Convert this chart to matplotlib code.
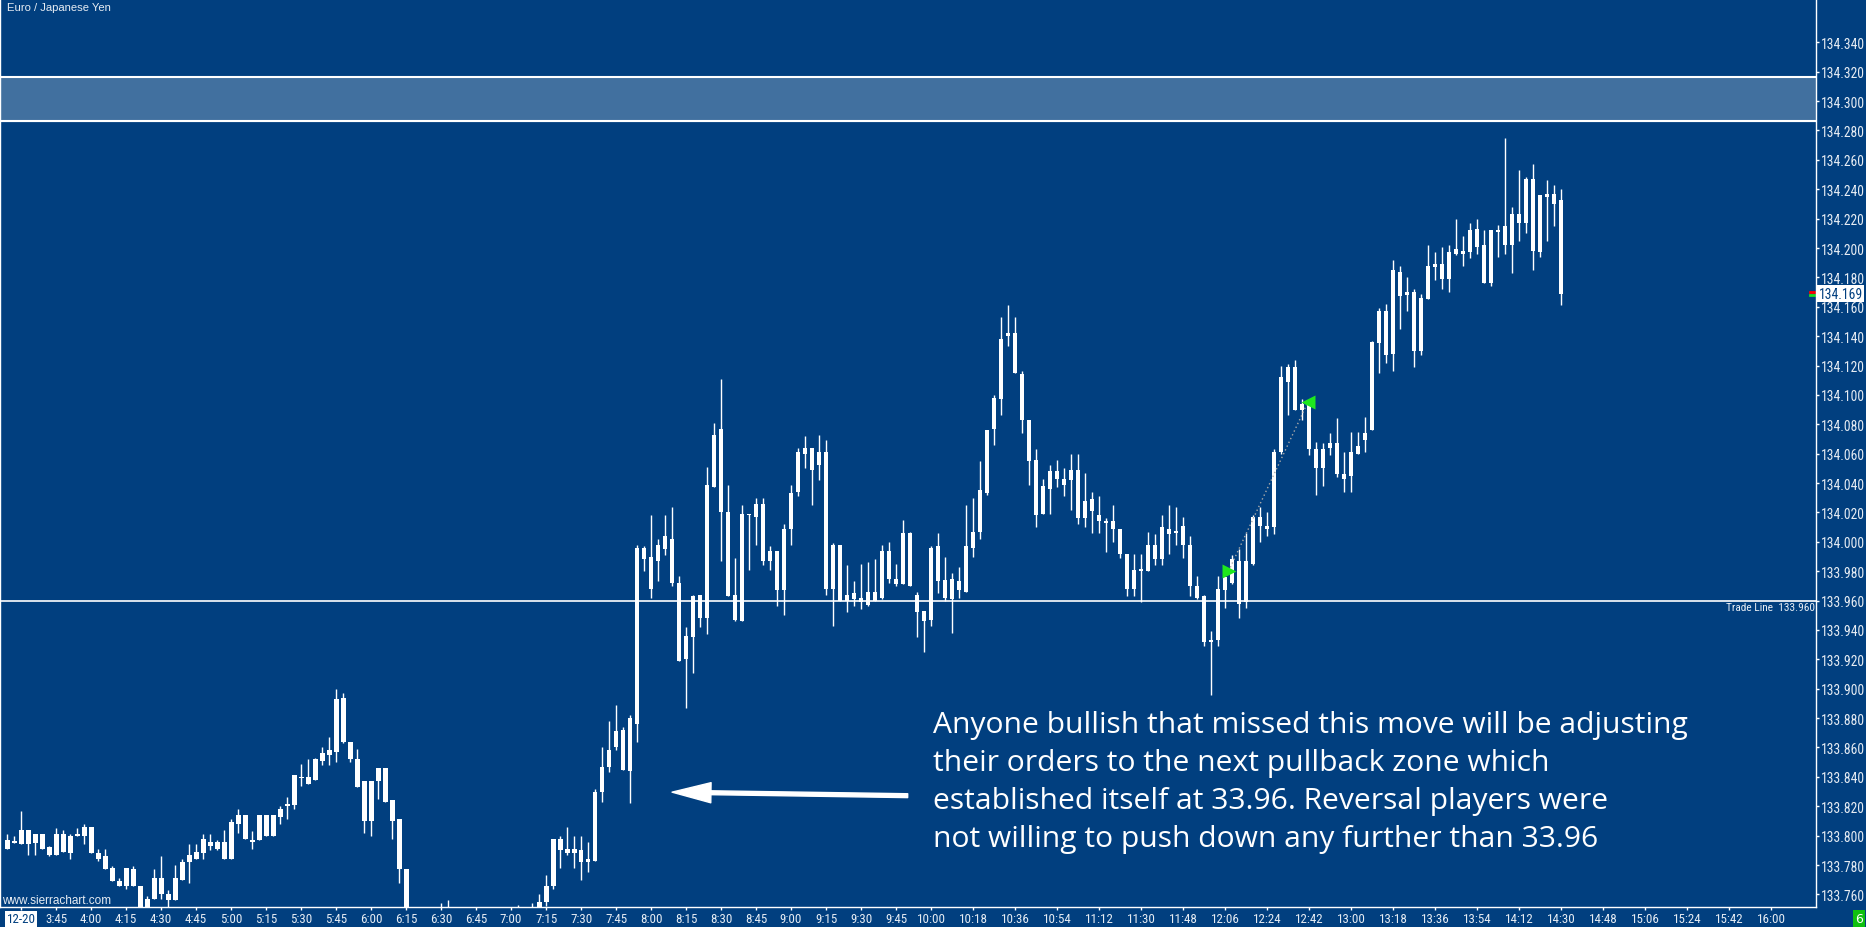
import numpy as np
import matplotlib
matplotlib.use("Agg")
import matplotlib.pyplot as plt
from matplotlib import font_manager
from matplotlib.font_manager import FontProperties
from matplotlib.textpath import TextPath

# ---- data: 3-minute EUR/JPY bars, first bar 03:24 ----
first_bar = "3:24"
bar_minutes = 3

opens = [133.791, 133.796, 133.794, 133.804, 133.795, 133.801, 133.792, 133.787, 133.801, 133.788,
         133.800, 133.800, 133.806, 133.788, 133.786, 133.778, 133.769, 133.766, 133.777, 133.766,
         133.748, 133.757, 133.771, 133.760, 133.756, 133.770, 133.782, 133.784, 133.788, 133.796,
         133.796, 133.796, 133.784, 133.808, 133.814, 133.797, 133.797, 133.814, 133.800, 133.813,
         133.820, 133.821, 133.840, 133.840, 133.838, 133.851, 133.855, 133.857, 133.894, 133.864,
         133.852, 133.837, 133.810, 133.837, 133.846, 133.824, 133.811, 133.777, 133.740, 133.730,
         133.735, 133.738, 133.745, 133.742, 133.740, 133.732, 133.726, 133.730, 133.734, 133.736,
         133.740, 133.735, 133.741, 133.744, 133.742, 133.745, 133.741, 133.755, 133.766, 133.798,
         133.791, 133.788, 133.790, 133.782, 133.783, 133.830, 133.847, 133.860, 133.872, 133.844,
         133.876, 133.996, 133.990, 133.987, 133.995, 134.002, 133.972, 133.920, 133.935, 133.964,
         133.948, 134.037, 134.077, 134.020, 133.964, 133.946, 134.019, 134.017, 134.026, 133.987,
         133.994, 133.967, 134.009, 134.034, 134.060, 134.064, 134.052, 134.061, 133.968, 133.998,
         133.960, 133.961, 133.962, 133.957, 133.966, 133.962, 133.994, 133.975, 133.971, 134.006,
         133.964, 133.953, 133.947, 133.997, 133.974, 133.961, 133.973, 133.966, 133.996, 134.007,
         134.033, 134.077, 134.097, 134.140, 134.142, 134.114, 134.083, 134.056, 134.019, 134.036,
         134.048, 134.043, 134.042, 134.049, 134.016, 134.029, 134.018, 134.014, 134.014, 134.009,
         133.992, 133.968, 133.981, 133.980, 133.998, 133.988, 134.009, 134.006, 134.011, 133.998,
         133.970, 133.963, 133.932, 133.933, 133.967, 133.972, 133.987, 133.959, 133.985, 134.017,
         134.011, 134.010, 134.061, 134.109, 134.119, 134.090, 134.094, 134.063, 134.050, 134.064,
         134.067, 134.046, 134.045, 134.060, 134.069, 134.076, 134.135, 134.157, 134.128, 134.184,
         134.168, 134.170, 134.130, 134.165, 134.187, 134.189, 134.179, 134.196, 134.198, 134.197,
         134.213, 134.202, 134.176, 134.211, 134.215, 134.202, 134.223, 134.217, 134.247, 134.197,
         134.235, 134.237, 134.233]
highs = [133.801, 133.800, 133.817, 133.804, 133.801, 133.801, 133.793, 133.805, 133.804, 133.801,
         133.805, 133.808, 133.806, 133.791, 133.791, 133.779, 133.771, 133.778, 133.779, 133.766,
         133.759, 133.777, 133.786, 133.763, 133.780, 133.784, 133.794, 133.794, 133.801, 133.801,
         133.797, 133.804, 133.811, 133.818, 133.814, 133.803, 133.814, 133.814, 133.814, 133.820,
         133.826, 133.841, 133.849, 133.852, 133.853, 133.860, 133.867, 133.900, 133.897, 133.864,
         133.859, 133.837, 133.837, 133.846, 133.846, 133.824, 133.811, 133.777, 133.745, 133.738,
         133.742, 133.748, 133.754, 133.756, 133.746, 133.740, 133.735, 133.738, 133.742, 133.745,
         133.746, 133.744, 133.748, 133.753, 133.749, 133.754, 133.760, 133.773, 133.798, 133.800,
         133.806, 133.800, 133.800, 133.796, 133.832, 133.860, 133.878, 133.889, 133.874, 133.882,
         133.998, 133.997, 134.018, 134.002, 134.018, 134.024, 133.977, 133.942, 133.964, 133.964,
         134.051, 134.081, 134.111, 134.039, 133.989, 134.025, 134.019, 134.030, 134.030, 133.997,
         133.994, 134.012, 134.039, 134.064, 134.072, 134.064, 134.073, 134.069, 133.999, 133.998,
         133.984, 133.973, 133.985, 133.986, 133.988, 133.998, 134.000, 133.985, 134.015, 134.007,
         133.966, 133.953, 133.997, 134.006, 133.990, 133.979, 133.983, 134.025, 134.030, 134.055,
         134.076, 134.100, 134.153, 134.161, 134.153, 134.116, 134.083, 134.063, 134.043, 134.052,
         134.056, 134.050, 134.060, 134.060, 134.047, 134.034, 134.031, 134.016, 134.025, 134.009,
         133.992, 133.992, 133.992, 134.007, 134.005, 134.018, 134.025, 134.024, 134.017, 134.004,
         133.977, 133.964, 133.939, 133.977, 133.976, 133.991, 133.995, 134.006, 134.018, 134.024,
         134.020, 134.063, 134.120, 134.121, 134.124, 134.097, 134.094, 134.068, 134.067, 134.074,
         134.084, 134.061, 134.075, 134.075, 134.085, 134.137, 134.159, 134.162, 134.192, 134.188,
         134.180, 134.172, 134.169, 134.202, 134.197, 134.201, 134.202, 134.220, 134.208, 134.217,
         134.220, 134.212, 134.212, 134.216, 134.275, 134.228, 134.253, 134.248, 134.257, 134.236,
         134.246, 134.243, 134.240]
lows = [133.791, 133.795, 133.794, 133.787, 133.787, 133.791, 133.786, 133.787, 133.789, 133.784,
        133.800, 133.794, 133.788, 133.783, 133.777, 133.769, 133.766, 133.764, 133.766, 133.744,
        133.745, 133.757, 133.757, 133.748, 133.756, 133.770, 133.768, 133.784, 133.784, 133.790,
        133.790, 133.784, 133.784, 133.802, 133.798, 133.791, 133.797, 133.800, 133.800, 133.808,
        133.811, 133.818, 133.834, 133.835, 133.838, 133.848, 133.848, 133.850, 133.863, 133.850,
        133.833, 133.802, 133.800, 133.825, 133.823, 133.798, 133.768, 133.735, 133.725, 133.720,
        133.728, 133.733, 133.738, 133.736, 133.728, 133.722, 133.718, 133.724, 133.728, 133.730,
        133.732, 133.730, 133.734, 133.738, 133.735, 133.739, 133.738, 133.752, 133.764, 133.778,
        133.787, 133.778, 133.770, 133.775, 133.783, 133.823, 133.843, 133.858, 133.845, 133.822,
        133.864, 133.980, 133.962, 133.973, 133.991, 133.970, 133.919, 133.887, 133.911, 133.942,
        133.937, 134.037, 133.987, 133.963, 133.946, 133.946, 133.981, 133.998, 133.984, 133.981,
        133.956, 133.950, 133.998, 134.031, 134.050, 134.025, 134.042, 133.964, 133.943, 133.960,
        133.952, 133.956, 133.954, 133.956, 133.960, 133.961, 133.972, 133.970, 133.971, 133.970,
        133.935, 133.925, 133.943, 133.965, 133.960, 133.938, 133.962, 133.966, 133.990, 134.002,
        134.032, 134.066, 134.086, 134.133, 134.115, 134.074, 134.039, 134.010, 134.019, 134.019,
        134.037, 134.031, 134.022, 134.012, 134.010, 134.006, 134.006, 133.993, 134.000, 133.989,
        133.963, 133.963, 133.959, 133.980, 133.984, 133.984, 133.992, 133.998, 133.989, 133.963,
        133.961, 133.929, 133.896, 133.929, 133.955, 133.971, 133.948, 133.955, 133.984, 134.000,
        134.004, 134.005, 134.060, 134.086, 134.090, 134.083, 134.059, 134.032, 134.038, 134.059,
        134.044, 134.034, 134.034, 134.060, 134.061, 134.076, 134.115, 134.122, 134.116, 134.145,
        134.157, 134.119, 134.127, 134.165, 134.178, 134.172, 134.170, 134.195, 134.188, 134.193,
        134.196, 134.176, 134.174, 134.194, 134.196, 134.183, 134.205, 134.210, 134.185, 134.194,
        134.205, 134.215, 134.161]
closes = [133.797, 133.795, 133.804, 133.794, 133.801, 133.791, 133.787, 133.801, 133.789, 133.800,
          133.801, 133.806, 133.788, 133.784, 133.777, 133.769, 133.766, 133.778, 133.766, 133.748,
          133.757, 133.771, 133.760, 133.756, 133.771, 133.782, 133.787, 133.789, 133.798, 133.793,
          133.791, 133.784, 133.809, 133.814, 133.798, 133.796, 133.814, 133.800, 133.814, 133.818,
          133.821, 133.841, 133.839, 133.835, 133.852, 133.856, 133.858, 133.893, 133.864, 133.852,
          133.833, 133.810, 133.837, 133.846, 133.823, 133.810, 133.777, 133.740, 133.730, 133.735,
          133.738, 133.745, 133.742, 133.740, 133.732, 133.726, 133.730, 133.734, 133.736, 133.740,
          133.735, 133.741, 133.744, 133.742, 133.745, 133.741, 133.755, 133.766, 133.798, 133.790,
          133.788, 133.791, 133.782, 133.784, 133.830, 133.847, 133.858, 133.871, 133.845, 133.880,
          133.996, 133.988, 133.968, 133.998, 134.004, 133.972, 133.919, 133.936, 133.963, 133.948,
          134.039, 134.073, 134.020, 133.963, 133.947, 134.019, 134.018, 134.026, 133.987, 133.994,
          133.967, 134.009, 134.033, 134.061, 134.064, 134.049, 134.061, 133.968, 133.998, 133.960,
          133.964, 133.965, 133.959, 133.966, 133.960, 133.994, 133.975, 133.971, 134.006, 133.970,
          133.952, 133.946, 133.996, 133.973, 133.962, 133.975, 133.967, 133.997, 134.007, 134.035,
          134.076, 134.098, 134.138, 134.142, 134.115, 134.083, 134.055, 134.018, 134.038, 134.048,
          134.043, 134.039, 134.049, 134.016, 134.028, 134.021, 134.014, 134.013, 134.009, 133.992,
          133.968, 133.981, 133.980, 133.998, 133.988, 134.010, 134.005, 134.007, 133.998, 133.970,
          133.962, 133.932, 133.933, 133.968, 133.976, 133.988, 133.958, 133.987, 134.017, 134.011,
          134.009, 134.061, 134.112, 134.119, 134.090, 134.094, 134.063, 134.050, 134.063, 134.067,
          134.046, 134.043, 134.061, 134.065, 134.074, 134.136, 134.157, 134.127, 134.185, 134.167,
          134.170, 134.130, 134.166, 134.188, 134.189, 134.179, 134.197, 134.199, 134.196, 134.212,
          134.201, 134.176, 134.212, 134.212, 134.202, 134.223, 134.217, 134.247, 134.198, 134.236,
          134.237, 134.230, 134.169]

zone_low, zone_high = 134.2862, 134.3162
trade_line = 133.960
last_price = 134.169
entry_bar, entry_price = 174, 133.980
exit_bar, exit_price = 185, 134.095

price_ticks = [133.760 + 0.020 * k for k in range(30)]
time_ticks = ["3:30", "3:45", "4:00", "4:15", "4:30", "4:45", "5:00", "5:15", "5:30", "5:45",
              "6:00", "6:15", "6:30", "6:45", "7:00", "7:15", "7:30", "7:45", "8:00", "8:15",
              "8:30", "8:45", "9:00", "9:15", "9:30", "9:45", "10:00", "10:18", "10:36", "10:54",
              "11:12", "11:30", "11:48", "12:06", "12:24", "12:42", "13:00", "13:18", "13:36",
              "13:54", "14:12", "14:30", "14:48", "15:06", "15:24", "15:42", "16:00"]
time_labels = ["12-20"] + time_ticks[1:]

note_lines = ["Anyone bullish that missed this move will be adjusting",
              "their orders to the next pullback zone which",
              "established itself at 33.96. Reversal players were",
              "not willing to push down any further than 33.96"]


def to_min(s):
    h, m = s.split(":")
    return int(h) * 60 + int(m)


# pick the narrowest installed sans font for the axis labels (chart uses a narrow UI font)
sans = {"Liberation Sans Narrow", "Roboto Condensed", "DejaVu Sans", "Open Sans Condensed",
        "Noto Sans", "Liberation Sans", "Roboto", "Lato", "Inter", "Open Sans"}
best, best_ratio = None, 1e9
for f in font_manager.fontManager.ttflist:
    if f.name not in sans or f.style != "normal" or f.weight not in (400, "normal", "regular"):
        continue
    try:
        fp_try = FontProperties(fname=f.fname)
        ext = TextPath((0, 0), "133.760", size=10, prop=fp_try).get_extents()
        ratio = ext.width / ext.height
    except Exception:
        continue
    if ratio < best_ratio:
        best, best_ratio = f.fname, ratio
axis_fp = FontProperties(fname=best) if best else FontProperties(family="Liberation Sans")


def fit_size(s, target_px):
    w = TextPath((0, 0), s, size=10, prop=axis_fp).get_extents().width
    return 10 * (target_px * 0.72) / w


price_size = min(fit_size("133.760", 42), 10)
time_size = min(fit_size("15:06", 27), 9.5)
trade_size = min(fit_size("Trade Line  133.960", 88), 10)

bg = "#013f7f"
zone_col = "#41709f"
txt_col = "#e6ecf3"

x = to_min(first_bar) + bar_minutes * np.arange(len(opens))
o = np.array(opens); h = np.array(highs); l = np.array(lows); c = np.array(closes)

fig = plt.figure(figsize=(18.66, 9.28), dpi=100)
fig.patch.set_facecolor(bg)
ax = fig.add_axes([0, 0.0212, 0.9732, 0.9788])
ax.set_facecolor(bg)

# pullback zone
ax.axhspan(zone_low, zone_high, color=zone_col, zorder=1)
ax.axhline(zone_low, color="white", lw=1.5, zorder=2)
ax.axhline(zone_high, color="white", lw=1.5, zorder=2)

# trade line
ax.axhline(trade_line, color="white", lw=1.2, zorder=2)
ax.text(0.9995, trade_line - 0.0013, "Trade Line  %.3f" % trade_line, transform=ax.get_yaxis_transform(),
        ha="right", va="top", color=txt_col, fontproperties=axis_fp, fontsize=trade_size)

# candles
ax.vlines(x, l, h, color="white", lw=1.0, zorder=3)
body_lo = np.minimum(o, c)
body_h = np.maximum(np.abs(c - o), 0.0012)
ax.bar(x, body_h, bottom=body_lo, width=2.1, color="white", edgecolor="none", zorder=4)

# trade markers
xe, xx = x[entry_bar] + 1.5, x[exit_bar] + 2.5
ax.plot([xe, xx], [entry_price, exit_price], ls=(0, (1, 2)), color="#a9a9a9", lw=1, zorder=5)
ax.plot(xe, entry_price, marker=">", color="#1ee81e", ms=10, mec="none", zorder=6)
ax.plot(xx, exit_price, marker="<", color="#1ee81e", ms=10, mec="none", zorder=6)

# arrow + note
ax.annotate("", xy=(489, 133.8296), xytext=(590, 133.8272),
            arrowprops=dict(width=2.8, headwidth=14.5, headlength=28, color="white", shrink=0), zorder=7)
for k, line in enumerate(note_lines):
    fig.text(933 / 1866, 1 - (733 + 38 * k) / 928, line, color="white", fontsize=21.6,
             family="Open Sans", va="baseline", ha="left")

ax.set_xlim(200.96, 979.3)
ax.set_ylim(133.7512, 134.3695)

# axes styling
for side in ["left", "right", "bottom"]:
    ax.spines[side].set_color("white")
    ax.spines[side].set_linewidth(1.0)
ax.spines["top"].set_visible(False)

ax.yaxis.tick_right()
ax.set_yticks(price_ticks)
ax.set_yticklabels(["%.3f" % p for p in price_ticks])
ax.set_xticks([to_min(t) for t in time_ticks])
ax.set_xticklabels(time_labels)
ax.tick_params(axis="both", colors="white", labelcolor=txt_col, length=2.2, width=1)
ax.tick_params(axis="y", pad=1.6)
ax.tick_params(axis="x", pad=1.5)
for lab in ax.get_yticklabels():
    lab.set_fontproperties(axis_fp)
    lab.set_fontsize(price_size)
for lab in ax.get_xticklabels():
    lab.set_fontproperties(axis_fp)
    lab.set_fontsize(time_size)
first = ax.get_xticklabels()[0]
first.set_color(bg)
first.set_bbox(dict(fc="white", ec="none", pad=1.2))

# last price tag
ax.text(1.0015, last_price, "%.3f" % last_price, transform=ax.get_yaxis_transform(), ha="left", va="center",
        color=bg, fontproperties=axis_fp, fontsize=price_size,
        bbox=dict(fc="white", ec="none", pad=1.0), clip_on=False)
ax.plot([0.9965, 0.999], [last_price + 0.0012] * 2, color="red", lw=2, transform=ax.get_yaxis_transform(), clip_on=False)
ax.plot([0.9965, 0.999], [last_price - 0.0012] * 2, color="#22dd22", lw=2, transform=ax.get_yaxis_transform(), clip_on=False)

# header / footer text
fig.text(7 / 1866, 1 - 11 / 928, "Euro / Japanese Yen", color=txt_col, fontsize=8.1, family="Liberation Sans",
         va="baseline")
fig.text(2 / 1866, 1 - 904.5 / 928, "www.sierrachart.com", color=txt_col, fontsize=8.5, family="Liberation Sans",
         va="baseline")
fig.text(1859 / 1866, 1 - 920 / 928, "6", color="white", fontsize=9, ha="center", va="center",
         bbox=dict(fc="#10c010", ec="none", pad=1.5))

fig.savefig("out.png", dpi=100, facecolor=bg)
